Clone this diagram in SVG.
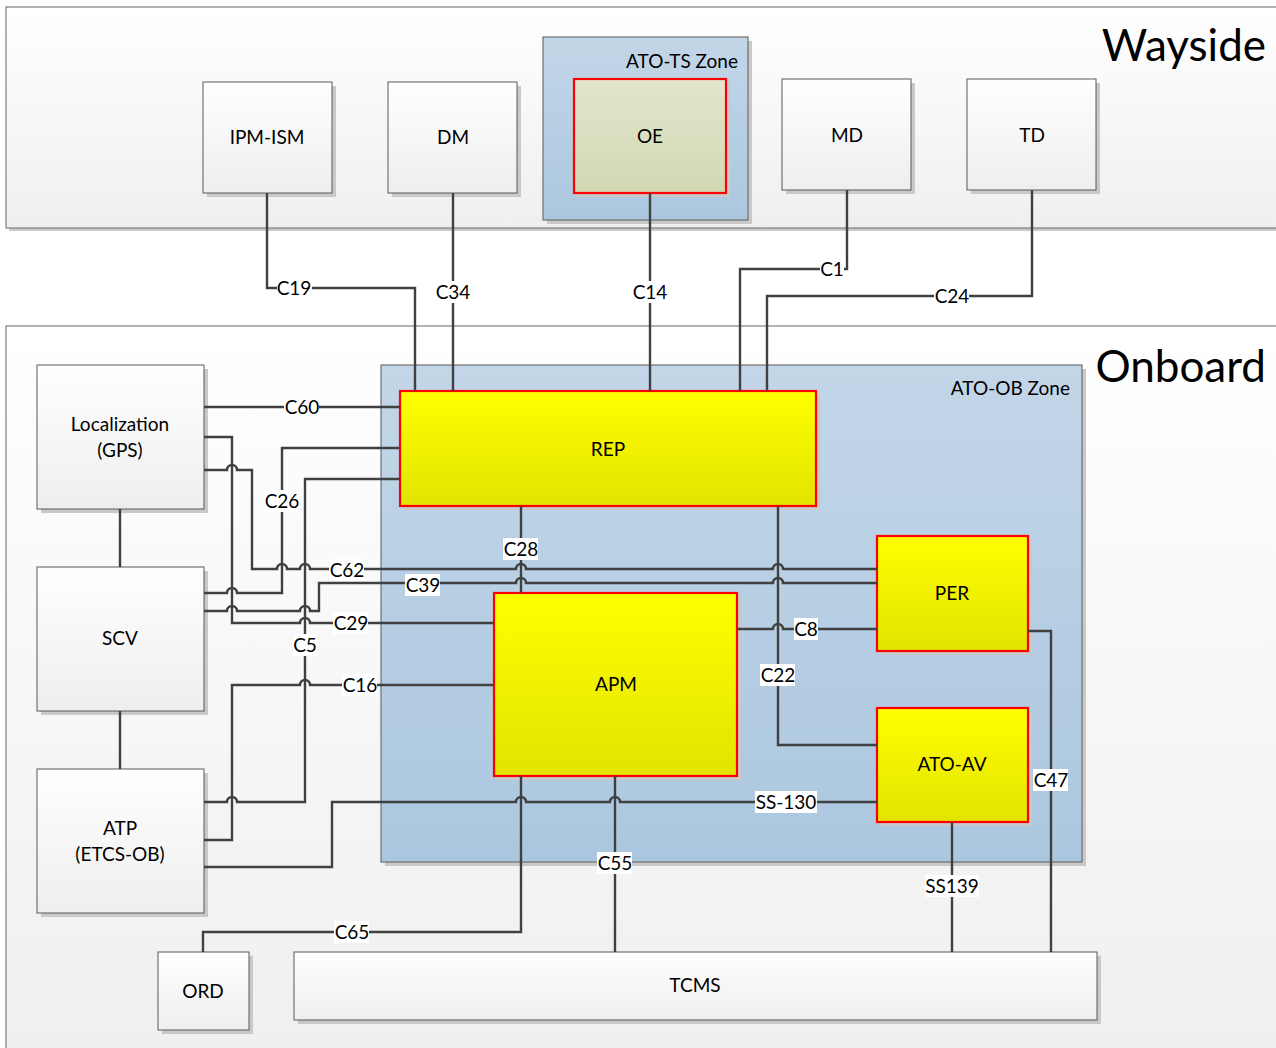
<svg xmlns="http://www.w3.org/2000/svg" width="1276" height="1048" viewBox="0 0 1276 1048">
<defs>
<linearGradient id="gWhite" x1="0" y1="0" x2="0" y2="1"><stop offset="0" stop-color="#ffffff"/><stop offset="1" stop-color="#eeeeee"/></linearGradient>
<linearGradient id="gCont" x1="0" y1="0" x2="0" y2="1"><stop offset="0" stop-color="#ffffff"/><stop offset="1" stop-color="#efefef"/></linearGradient>
<linearGradient id="gBlue" x1="0" y1="0" x2="0" y2="1"><stop offset="0" stop-color="#c3d6e8"/><stop offset="1" stop-color="#abc7df"/></linearGradient>
<linearGradient id="gYellow" x1="0" y1="0" x2="0" y2="1"><stop offset="0" stop-color="#ffff00"/><stop offset="1" stop-color="#e3e300"/></linearGradient>
<linearGradient id="gOE" x1="0" y1="0" x2="0" y2="1"><stop offset="0" stop-color="#e1e6cc"/><stop offset="1" stop-color="#d2d8b4"/></linearGradient>
</defs>
<style>
text{font-family:Lato,"Liberation Sans",sans-serif;fill:#000}
.t{font-size:19px;text-anchor:middle}
.big{font-size:44px;text-anchor:end}
.zl{font-size:19px;text-anchor:end}
.sh{fill:#c9c9c9}
.cont{fill:url(#gCont);stroke:#7f7f7f;stroke-width:1.2}
.box{fill:url(#gWhite);stroke:#595959;stroke-width:1}
.zone{fill:url(#gBlue);stroke:#6f6f6f;stroke-width:1.2}
.yel{fill:url(#gYellow);stroke:#ff0000;stroke-width:2.2}
.oe{fill:url(#gOE);stroke:#ff0000;stroke-width:2.2}
.w{fill:none;stroke:#404040;stroke-width:2.4}
.lb{fill:#ffffff}
.cl{font-size:19px;text-anchor:middle}
</style>

<g id="wayside">
<rect class="sh" x="9" y="10" width="1280" height="221"/>
<rect class="cont" x="6" y="7" width="1280" height="221"/>
<text class="big" x="1266" y="61">Wayside</text>
</g>
<g id="onboard">
<rect class="sh" x="9" y="329" width="1280" height="730"/>
<rect class="cont" x="6" y="326" width="1280" height="730"/>
<text class="big" x="1266" y="382">Onboard</text>
</g>

<g id="ato-ts-zone">
<rect class="sh" x="547" y="41" width="205" height="183"/>
<rect class="zone" x="543" y="37" width="205" height="183"/>
<text class="zl" x="738" y="68">ATO-TS Zone</text>
</g>
<g id="ato-ob-zone">
<rect class="sh" x="385" y="369" width="701" height="497"/>
<rect class="zone" x="381" y="365" width="701" height="497"/>
<text class="zl" x="1070" y="395">ATO-OB Zone</text>
</g>

<g id="ipm-ism">
<rect class="sh" x="207" y="86" width="129" height="111"/>
<rect class="box" x="203" y="82" width="129" height="111"/>
<text class="t" x="267" y="144">IPM-ISM</text>
</g>
<g id="dm">
<rect class="sh" x="392" y="86" width="129" height="111"/>
<rect class="box" x="388" y="82" width="129" height="111"/>
<text class="t" x="453" y="144">DM</text>
</g>
<g id="oe">
<rect class="sh" x="578" y="83" width="152" height="114"/>
<rect class="oe" x="574" y="79" width="152" height="114"/>
<text class="t" x="650" y="143">OE</text>
</g>
<g id="md">
<rect class="sh" x="786" y="83" width="129" height="111"/>
<rect class="box" x="782" y="79" width="129" height="111"/>
<text class="t" x="847" y="142">MD</text>
</g>
<g id="td">
<rect class="sh" x="971" y="83" width="129" height="111"/>
<rect class="box" x="967" y="79" width="129" height="111"/>
<text class="t" x="1032" y="142">TD</text>
</g>

<g id="rep">
<rect class="sh" x="404" y="395" width="416" height="115"/>
<rect class="yel" x="400" y="391" width="416" height="115"/>
<text class="t" x="608" y="456">REP</text>
</g>
<g id="per">
<rect class="sh" x="881" y="540" width="151" height="115"/>
<rect class="yel" x="877" y="536" width="151" height="115"/>
<text class="t" x="952" y="600">PER</text>
</g>
<g id="apm">
<rect class="sh" x="498" y="597" width="243" height="183"/>
<rect class="yel" x="494" y="593" width="243" height="183"/>
<text class="t" x="616" y="691">APM</text>
</g>
<g id="ato-av">
<rect class="sh" x="881" y="712" width="151" height="114"/>
<rect class="yel" x="877" y="708" width="151" height="114"/>
<text class="t" x="952" y="771">ATO-AV</text>
</g>
<g id="localization">
<rect class="sh" x="41" y="369" width="167" height="144"/>
<rect class="box" x="37" y="365" width="167" height="144"/>
<text class="t" x="120" y="431">Localization</text>
<text class="t" x="120" y="457">(GPS)</text>
</g>
<g id="scv">
<rect class="sh" x="41" y="571" width="167" height="144"/>
<rect class="box" x="37" y="567" width="167" height="144"/>
<text class="t" x="120" y="645">SCV</text>
</g>
<g id="atp">
<rect class="sh" x="41" y="773" width="167" height="144"/>
<rect class="box" x="37" y="769" width="167" height="144"/>
<text class="t" x="120" y="835">ATP</text>
<text class="t" x="120" y="861">(ETCS-OB)</text>
</g>
<g id="ord">
<rect class="sh" x="162" y="956" width="91" height="78"/>
<rect class="box" x="158" y="952" width="91" height="78"/>
<text class="t" x="203" y="998">ORD</text>
</g>
<g id="tcms">
<rect class="sh" x="298" y="956" width="803" height="68"/>
<rect class="box" x="294" y="952" width="803" height="68"/>
<text class="t" x="695" y="992">TCMS</text>
</g>

<g id="connectors">
<path class="w" d="M267,193 V288 H415 V391"/>
<path class="w" d="M453,193 V391"/>
<path class="w" d="M650,193 V391"/>
<path class="w" d="M847,190 V269 H740 V391"/>
<path class="w" d="M1032,190 V296 H767 V391"/>
<path class="w" d="M120,509 V567"/>
<path class="w" d="M120,711 V769"/>
<path class="w" d="M204,407 H400"/>
<path class="w" d="M204,437 H232 V623 H300 a5,5 0 0 1 10,0 H494"/>
<path class="w" d="M204,470 H227 a5,5 0 0 1 10,0 H252 V569 H277 a5,5 0 0 1 10,0 H300 a5,5 0 0 1 10,0 H516 a5,5 0 0 1 10,0 H773 a5,5 0 0 1 10,0 H877"/>
<path class="w" d="M204,593 H227 a5,5 0 0 1 10,0 H282 V448 H400"/>
<path class="w" d="M204,802 H227 a5,5 0 0 1 10,0 H305 V479 H400"/>
<path class="w" d="M204,611 H227 a5,5 0 0 1 10,0 H300 a5,5 0 0 1 10,0 H319 V583 H516 a5,5 0 0 1 10,0 H773 a5,5 0 0 1 10,0 H877"/>
<path class="w" d="M204,840 H232 V685 H300 a5,5 0 0 1 10,0 H494"/>
<path class="w" d="M204,867 H332 V802 H516 a5,5 0 0 1 10,0 H610 a5,5 0 0 1 10,0 H877"/>
<path class="w" d="M521,506 V593"/>
<path class="w" d="M778,506 V745 H877"/>
<path class="w" d="M737,629 H773 a5,5 0 0 1 10,0 H877"/>
<path class="w" d="M1028,631 H1051 V952"/>
<path class="w" d="M952,822 V952"/>
<path class="w" d="M615,776 V952"/>
<path class="w" d="M521,776 V932 H203 V952"/>

<g id="labels">
<rect class="lb" x="277" y="277" width="35" height="22"/><text class="cl" x="294" y="295">C19</text>
<rect class="lb" x="435" y="281" width="35" height="22"/><text class="cl" x="453" y="299">C34</text>
<rect class="lb" x="632" y="281" width="35" height="22"/><text class="cl" x="650" y="299">C14</text>
<rect class="lb" x="820" y="258" width="24" height="22"/><text class="cl" x="832" y="276">C1</text>
<rect class="lb" x="934" y="285" width="35" height="22"/><text class="cl" x="952" y="303">C24</text>
<rect class="lb" x="284" y="396" width="35" height="22"/><text class="cl" x="302" y="414">C60</text>
<rect class="lb" x="264" y="490" width="35" height="22"/><text class="cl" x="282" y="508">C26</text>
<rect class="lb" x="329" y="559" width="35" height="22"/><text class="cl" x="347" y="577">C62</text>
<rect class="lb" x="405" y="574" width="35" height="22"/><text class="cl" x="423" y="592">C39</text>
<rect class="lb" x="333" y="612" width="35" height="22"/><text class="cl" x="351" y="630">C29</text>
<rect class="lb" x="293" y="634" width="24" height="22"/><text class="cl" x="305" y="652">C5</text>
<rect class="lb" x="342" y="674" width="35" height="22"/><text class="cl" x="360" y="692">C16</text>
<rect class="lb" x="503" y="538" width="35" height="22"/><text class="cl" x="521" y="556">C28</text>
<rect class="lb" x="794" y="618" width="24" height="22"/><text class="cl" x="806" y="636">C8</text>
<rect class="lb" x="760" y="664" width="35" height="22"/><text class="cl" x="778" y="682">C22</text>
<rect class="lb" x="1033" y="769" width="35" height="22"/><text class="cl" x="1051" y="787">C47</text>
<rect class="lb" x="755" y="791" width="62" height="22"/><text class="cl" x="786" y="809">SS-130</text>
<rect class="lb" x="597" y="852" width="35" height="22"/><text class="cl" x="615" y="870">C55</text>
<rect class="lb" x="925" y="875" width="54" height="22"/><text class="cl" x="952" y="893">SS139</text>
<rect class="lb" x="334" y="921" width="35" height="22"/><text class="cl" x="352" y="939">C65</text>
</g>
</g>
</svg>
